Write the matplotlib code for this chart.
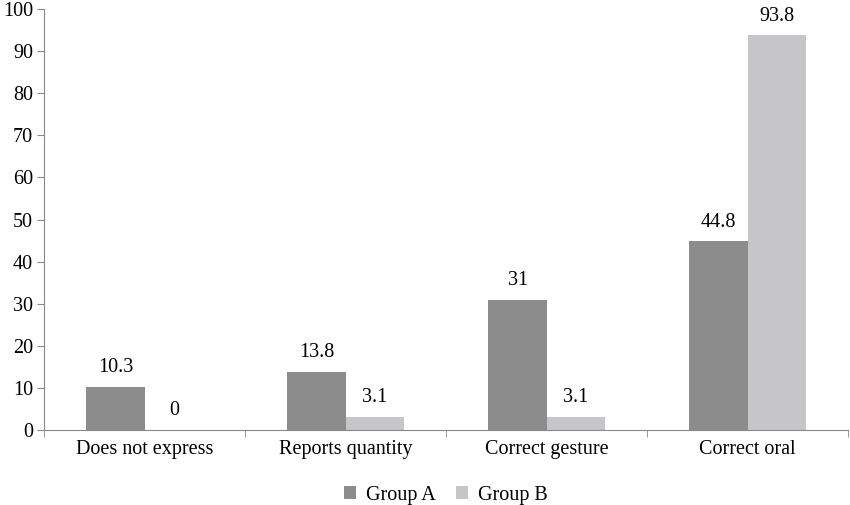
import matplotlib.pyplot as plt
import numpy as np

categories = ["Does not express", "Reports quantity", "Correct gesture", "Correct oral"]
group_a = [10.3, 13.8, 31, 44.8]
group_b = [0, 3.1, 3.1, 93.8]
labels_a = ["10.3", "13.8", "31", "44.8"]
labels_b = ["0", "3.1", "3.1", "93.8"]

plt.rcParams['font.family'] = ['Liberation Serif', 'DejaVu Serif']
fs = 14.5

fig = plt.figure(figsize=(8.5, 5.05), dpi=100)
ax = fig.add_axes([0.052, 0.1485, 0.946, 0.8335])

x = np.arange(len(categories))
w = 0.29
ax.bar(x - w / 2, group_a, w, color='#8c8c8c', label='Group A')
ax.bar(x + w / 2, group_b, w, color='#c6c6c8', label='Group B')

for xi, v, s in zip(x, group_a, labels_a):
    ax.text(xi - w / 2, v + 2.3, s, ha='center', va='bottom', fontsize=fs)
for xi, v, s in zip(x, group_b, labels_b):
    ax.text(xi + w / 2, v + 2.3, s, ha='center', va='bottom', fontsize=fs)

ax.set_xlim(-0.5, 3.5)
ax.set_ylim(0, 100)
ax.set_yticks(range(0, 101, 10))
ax.set_xticks(x)
ax.set_xticklabels(categories, fontsize=fs)
ax.set_xticks(np.arange(-0.5, 3.6, 1), minor=True)
ax.tick_params(axis='x', which='major', length=0, pad=7)
ax.tick_params(axis='x', which='minor', length=5, color='#888888')
ax.tick_params(axis='y', labelsize=fs, length=5, color='#888888', pad=3)

for side in ['top', 'right']:
    ax.spines[side].set_visible(False)
for side in ['left', 'bottom']:
    ax.spines[side].set_color('#888888')

ax.legend(loc='center', bbox_to_anchor=(0.5, -0.155), ncol=2, frameon=False,
          fontsize=fs, handlelength=0.6, handleheight=0.6, columnspacing=1.0,
          handletextpad=0.5, borderpad=0.1)

plt.savefig('out.png')
